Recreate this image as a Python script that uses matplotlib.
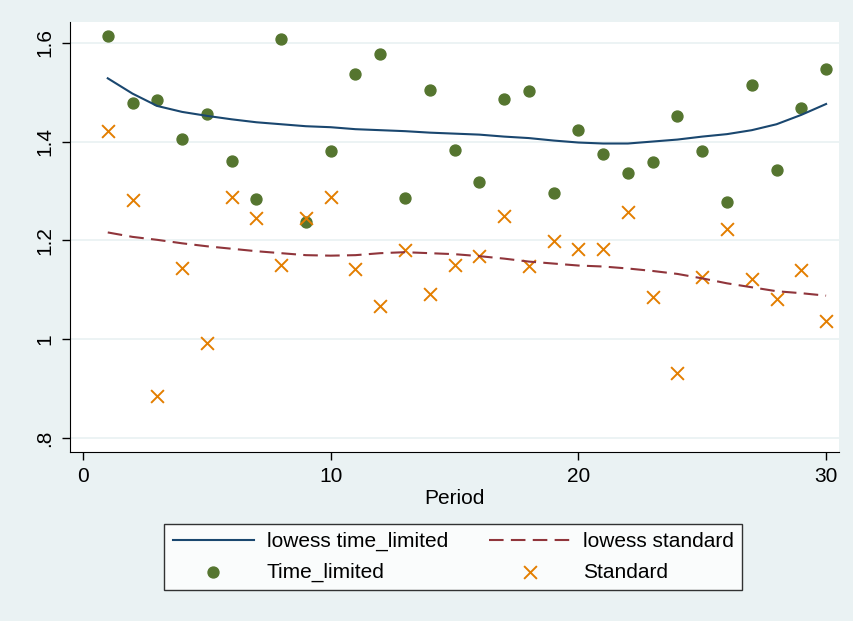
import matplotlib
matplotlib.use("Agg")
import matplotlib.pyplot as plt
import numpy as np

plt.rcParams['font.family'] = ['Liberation Sans', 'DejaVu Sans']

period = np.arange(1, 31)

time_limited = [1.614, 1.477, 1.484, 1.406, 1.456, 1.361, 1.283, 1.608, 1.237, 1.381,
                1.537, 1.578, 1.286, 1.504, 1.383, 1.318, 1.487, 1.502, 1.296, 1.423,
                1.375, 1.337, 1.358, 1.452, 1.381, 1.278, 1.514, 1.342, 1.468, 1.547]

standard = [1.422, 1.281, 0.885, 1.145, 0.992, 1.288, 1.245, 1.150, 1.245, 1.287,
            1.141, 1.067, 1.180, 1.092, 1.150, 1.169, 1.250, 1.148, 1.199, 1.182,
            1.182, 1.257, 1.085, 0.931, 1.125, 1.222, 1.121, 1.081, 1.140, 1.037]

# lowess curves
lowess_tl = [1.528, 1.497, 1.472, 1.460, 1.452, 1.445, 1.439, 1.435, 1.431, 1.429,
             1.425, 1.423, 1.421, 1.418, 1.416, 1.414, 1.410, 1.407, 1.402, 1.398,
             1.396, 1.396, 1.400, 1.404, 1.410, 1.415, 1.423, 1.435, 1.454, 1.476]

lowess_std = [1.216, 1.207, 1.201, 1.194, 1.188, 1.183, 1.178, 1.174, 1.170, 1.169,
              1.170, 1.174, 1.176, 1.174, 1.172, 1.168, 1.163, 1.157, 1.153, 1.149,
              1.147, 1.143, 1.138, 1.132, 1.123, 1.113, 1.105, 1.097, 1.093, 1.088]

yticks = [0.8, 1.0, 1.2, 1.4, 1.6]
ytick_labels = ['.8', '1', '1.2', '1.4', '1.6']
xticks = [0, 10, 20, 30]

navy = '#1a476f'
maroon = '#90353b'
green = '#55752f'
orange = '#e37e00'
bg = '#eaf2f3'

fig = plt.figure(figsize=(8.54, 6.21), dpi=100, facecolor=bg)
ax = fig.add_axes([0.0816, 0.2721, 0.9008, 0.6925])
ax.set_facecolor('white')

for y in yticks:
    ax.axhline(y, color=bg, lw=1.3, zorder=0)

l1, = ax.plot(period, lowess_tl, color=navy, lw=1.5, zorder=3)
l2, = ax.plot(period, lowess_std, color=maroon, lw=1.5, ls=(0, (7, 3.5)), zorder=3)
s1 = ax.scatter(period, time_limited, s=62, color=green, zorder=2)
s2 = ax.scatter(period, standard, s=85, marker='x', color=orange, linewidths=1.4, zorder=2)

ax.set_xlim(-0.537, 30.52)
ax.set_ylim(0.7715, 1.642)
ax.set_yticks(yticks)
ax.set_yticklabels(ytick_labels, rotation=90, va='center')
ax.set_xticks(xticks)
ax.tick_params(axis='both', direction='out', length=6, width=1, labelsize=15, pad=5)
ax.spines['top'].set_visible(False)
ax.spines['right'].set_visible(False)
ax.set_xlabel('Period', fontsize=15, labelpad=2)

leg = fig.legend([l1, s1, l2, s2],
                 ['lowess time_limited', 'Time_limited', 'lowess standard', 'Standard'],
                 ncol=2, loc='center', bbox_to_anchor=(0.531, 0.103),
                 fontsize=15, frameon=True, fancybox=False, edgecolor='black',
                 handlelength=3.9, handletextpad=0.6, columnspacing=2.0,
                 labelspacing=0.55, borderpad=0.4, borderaxespad=0, scatterpoints=1)
leg.get_frame().set_linewidth(1.0)

fig.savefig('out.png', dpi=100, facecolor=bg)
